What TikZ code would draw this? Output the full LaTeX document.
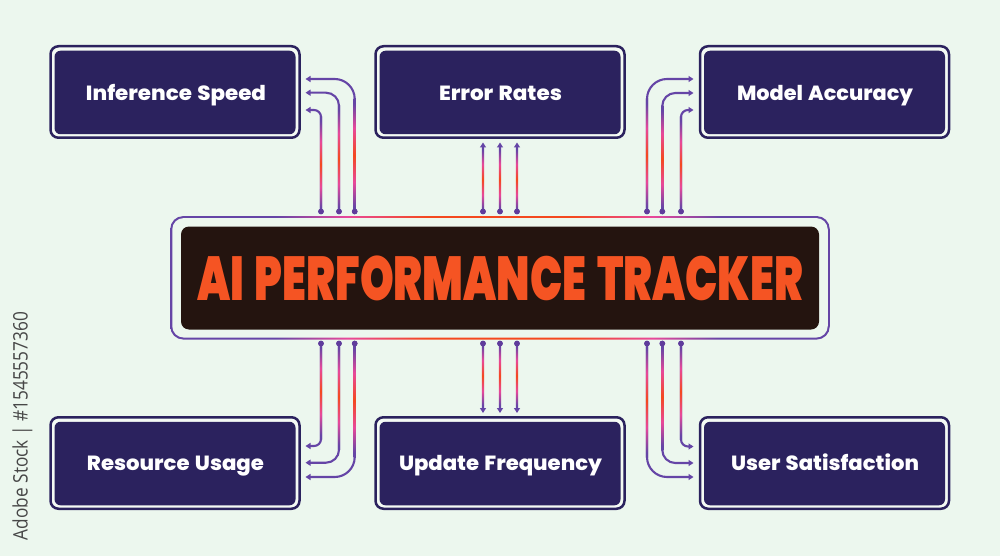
\documentclass[tikz,border=0pt]{standalone}
\usepackage{fontspec}
\usetikzlibrary{arrows.meta,calc}
\setmainfont{Poppins}
\newfontfamily\heavy[WordSpace=1.5]{Poppins Black}
\newfontfamily\boxfont[WordSpace=1.3]{Poppins ExtraBold}
\newfontfamily\sidefont{Open Sans}
\definecolor{bgc}{HTML}{ECF7EE}
\definecolor{bandc}{HTML}{F4FAF4}
\definecolor{navy}{HTML}{2B225E}
\definecolor{darkc}{HTML}{24140F}
\definecolor{titlec}{HTML}{F55423}
\definecolor{purp}{HTML}{6545A6}
\definecolor{dotc}{HTML}{5F3C9C}
\definecolor{pinkc}{HTML}{E8489A}
\definecolor{redc}{HTML}{F4481E}
\pgfdeclareverticalshading{lineshade}{100bp}{color(0bp)=(purp); color(27bp)=(purp); color(38bp)=(pinkc); color(50bp)=(redc); color(62bp)=(pinkc); color(73bp)=(purp); color(100bp)=(purp)}
\pgfdeclarehorizontalshading{ringshade}{100bp}{color(0bp)=(purp); color(33bp)=(purp); color(38.4bp)=(pinkc); color(44.5bp)=(redc); color(55.5bp)=(redc); color(61.6bp)=(pinkc); color(66.7bp)=(purp); color(100bp)=(purp)}
\newcommand\fitw[2]{\resizebox{#1}{\height}{#2}}
\tikzset{
  outerbox/.style={draw=navy,line width=2.5pt,fill=bandc,rounded corners=8pt,minimum width=249pt,minimum height=91.5pt,outer sep=0pt,inner sep=0pt},
  innerbox/.style={fill=navy,rounded corners=6pt,minimum width=241pt,minimum height=83.5pt,outer sep=0pt,inner sep=0pt},
  boxtext/.style={text=white,font=\boxfont\fontsize{20.5}{20.5}\selectfont,anchor=base,inner sep=0pt},
  ring/.style={shading=ringshade,rounded corners=13pt,minimum width=659.5pt,minimum height=123.5pt,outer sep=0pt,inner sep=0pt},
  ringin/.style={fill=bgc,rounded corners=11.5pt,minimum width=655.5pt,minimum height=119.5pt,outer sep=0pt,inner sep=0pt},
  core/.style={fill=darkc,rounded corners=8pt,minimum width=638pt,minimum height=103pt,outer sep=0pt,inner sep=0pt},
  titletext/.style={text=titlec,font=\heavy\fontsize{62}{62}\selectfont,anchor=base,inner sep=0pt},
  dotn/.style={circle,fill=dotc,minimum size=5.6pt,inner sep=0pt,outer sep=0pt},
  connline/.style={draw=purp,line width=2.1pt,-{Triangle[length=5pt,width=6pt]}},
  sidetext/.style={text=black!72,font=\sidefont\fontsize{20}{20}\selectfont,rotate=90,anchor=center,inner sep=0pt}
}
\begin{document}
\begin{tikzpicture}[x=1pt,y=-1pt]
\useasboundingbox (0,0) rectangle (1000,556);
\fill[bgc] (0,0) rectangle (1000,556);
% centre
\node[ring] (ringout) at (500,277.8) {};
\node[ringin] (ringinner) at (500,277.8) {};
\node[core] (coreb) at (500,278) {};
\node[titletext] (title) at (500,300) {\fitw{606pt}{AI PERFORMANCE TRACKER}};
% boxes
\foreach \nm/\cx/\cy in {a/175/92,b/500/92,c/824.5/92,d/175/463,e/500/463,f/824.5/463}{
  \node[outerbox] (\nm out) at (\cx,\cy) {};
  \node[innerbox] (\nm in) at (\cx,\cy+.5) {};
}
\node[boxtext] (ta) at (176,101) {\fitw{180pt}{Inference Speed}};
\node[boxtext] (tb) at (500.5,101) {\fitw{123pt}{Error Rates}};
\node[boxtext] (tc) at (825,101) {\fitw{176pt}{Model Accuracy}};
\node[boxtext] (td) at (175.5,470) {\fitw{177pt}{Resource Usage}};
\node[boxtext] (te) at (500.5,470) {\fitw{203pt}{Update Frequency}};
\node[boxtext] (tf) at (825,470) {\fitw{188pt}{User Satisfaction}};
% dots and free ends
\foreach \nm/\x/\y in {
  a1/321/211.5,a2/339/211.5,a3/354.7/211.5,
  b1/483/211.5,b2/500/211.5,b3/517/211.5,
  c1/647/211.5,c2/662.3/211.5,c3/681/211.5,
  d1/321/343.5,d2/339/343.5,d3/354.7/343.5,
  e1/483/343.5,e2/500/343.5,e3/517/343.5,
  f1/647/343.5,f2/662.3/343.5,f3/681/343.5}{
  \node[dotn] (\nm) at (\x,\y) {};
}
\foreach \nm/\x/\y in {
  ea1/305.5/110,ea2/305.5/92.7,ea3/305.5/79,
  eb1/483/142.5,eb2/500/142.5,eb3/517/142.5,
  ec1/693.5/79,ec2/693.5/93,ec3/693.5/110,
  ed1/305.5/446,ed2/305.5/462.7,ed3/305.5/477,
  ee1/483/413,ee2/500/413,ee3/517/413,
  ef1/693.5/477,ef2/693.5/463,ef3/693.5/446.5}{
  \coordinate (\nm) at (\x,\y);
}
% connectors
\foreach \s/\r/\sg in {a1/7/1,a2/13/1,a3/20/1,c1/20/1,c2/13/1,c3/7/1,d1/7/-1,d2/13/-1,d3/20/-1,f1/20/-1,f2/13/-1,f3/7/-1}{
  \draw[connline,rounded corners=\r pt] (\s) |- (e\s);
  \shade[shading=lineshade] ($(\s)+(-1.05,0)$) rectangle ($(\s |- e\s)+(1.05,\sg*\r)$);
  \node[dotn] at (\s) {};
}
\foreach \s in {b1,b2,b3}{
  \shade[shading=lineshade] ($(\s)+(-1.05,0)$) rectangle ($(\s |- e\s)+(1.05,5)$);
  \draw[connline] ($(\s |- e\s)+(0,6)$) -- (e\s);
  \node[dotn] at (\s) {};
}
\foreach \s in {e1,e2,e3}{
  \shade[shading=lineshade] ($(\s)+(-1.05,0)$) rectangle ($(\s |- e\s)+(1.05,-5)$);
  \draw[connline] ($(\s |- e\s)+(0,-6)$) -- (e\s);
  \node[dotn] at (\s) {};
}
\node[sidetext] (side) at (22.5,426) {\fitw{228pt}{Adobe Stock | \#1545557360}};
\end{tikzpicture}
\end{document}
